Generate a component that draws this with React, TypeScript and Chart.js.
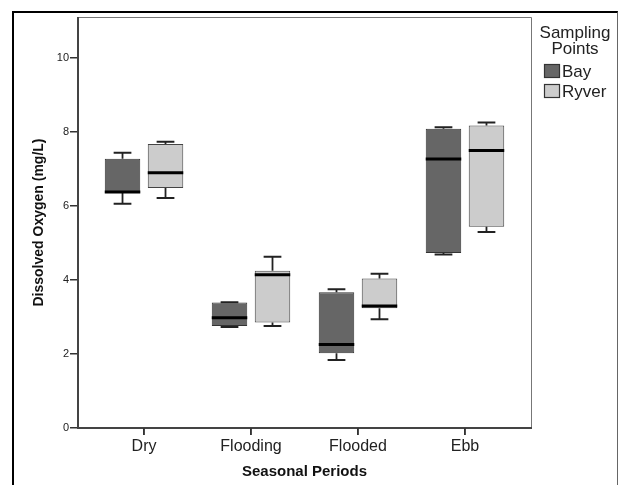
import { useEffect, useRef } from 'react';
import { Chart, registerables } from 'chart.js';

Chart.register(...registerables);

const FONT = '"Liberation Sans", Arial, Helvetica, sans-serif';

const categories = ['Dry', 'Flooding', 'Flooded', 'Ebb'];
const yTicks = [0, 2, 4, 6, 8, 10];

const bayMin = [6.06, 2.73, 1.84, 4.69];
const bayQ1 = [6.35, 2.76, 2.02, 4.73];
const bayMedian = [6.38, 2.98, 2.26, 7.27];
const bayQ3 = [7.28, 3.39, 3.67, 8.09];
const bayMax = [7.44, 3.40, 3.75, 8.13];

const ryverMin = [6.22, 2.76, 2.94, 5.30];
const ryverQ1 = [6.49, 2.85, 3.24, 5.44];
const ryverMedian = [6.90, 4.14, 3.30, 7.50];
const ryverQ3 = [7.68, 4.25, 4.04, 8.18];
const ryverMax = [7.74, 4.63, 4.17, 8.26];

const legendTitle = ['Sampling', 'Points'];

const boxPlugin = {
  id: 'boxWhiskers',
  afterDatasetsDraw(chart: any) {
    const ctx = chart.ctx;
    const y = chart.scales.y;
    chart.data.datasets.forEach((ds: any, di: number) => {
      const meta = chart.getDatasetMeta(di);
      meta.data.forEach((el: any, i: number) => {
        const x = el.x;
        const w = el.width;
        const pMin = y.getPixelForValue(ds.stats.min[i]);
        const pMax = y.getPixelForValue(ds.stats.max[i]);
        const pQ1 = y.getPixelForValue(ds.data[i].y[0]);
        const pQ3 = y.getPixelForValue(ds.data[i].y[1]);
        const pMed = y.getPixelForValue(ds.stats.median[i]);
        ctx.save();
        ctx.strokeStyle = '#222';
        ctx.lineWidth = 1.8;
        ctx.beginPath();
        ctx.moveTo(x, pQ3);
        ctx.lineTo(x, pMax);
        ctx.moveTo(x, pQ1);
        ctx.lineTo(x, pMin);
        ctx.stroke();
        ctx.lineWidth = 2;
        ctx.beginPath();
        ctx.moveTo(x - w / 4, pMax);
        ctx.lineTo(x + w / 4, pMax);
        ctx.moveTo(x - w / 4, pMin);
        ctx.lineTo(x + w / 4, pMin);
        ctx.stroke();
        ctx.strokeStyle = '#000';
        ctx.lineWidth = 3;
        ctx.beginPath();
        ctx.moveTo(x - w / 2, pMed);
        ctx.lineTo(x + w / 2, pMed);
        ctx.stroke();
        ctx.restore();
      });
    });
  },
};

const framePlugin = {
  id: 'plotFrame',
  afterDraw(chart: any) {
    const { left, right, top, bottom } = chart.chartArea;
    const ctx = chart.ctx;
    const xs = chart.scales.x;
    ctx.save();
    ctx.strokeStyle = '#777';
    ctx.lineWidth = 1;
    ctx.beginPath();
    ctx.moveTo(left, top + 0.5);
    ctx.lineTo(right + 0.5, top + 0.5);
    ctx.lineTo(right + 0.5, bottom);
    ctx.stroke();
    ctx.strokeStyle = '#444';
    ctx.lineWidth = 2;
    ctx.beginPath();
    ctx.moveTo(left, top);
    ctx.lineTo(left, bottom);
    ctx.lineTo(right + 1, bottom);
    ctx.stroke();
    ctx.strokeStyle = '#333';
    ctx.lineWidth = 1.5;
    ctx.beginPath();
    xs.ticks.forEach((_t: any, i: number) => {
      const px = xs.getPixelForTick(i);
      ctx.moveTo(px, bottom);
      ctx.lineTo(px, bottom + 7);
    });
    ctx.stroke();
    ctx.restore();
  },
};

const legendPlugin = {
  id: 'sideLegend',
  afterDraw(chart: any) {
    const ctx = chart.ctx;
    const cx = 575;
    ctx.save();
    ctx.fillStyle = '#222';
    ctx.font = `17px ${FONT}`;
    ctx.textAlign = 'center';
    ctx.textBaseline = 'middle';
    legendTitle.forEach((t, i) => ctx.fillText(t, cx, 33 + i * 16));
    ctx.textAlign = 'left';
    chart.data.datasets.forEach((ds: any, i: number) => {
      const yTop = 64 + i * 20;
      ctx.fillStyle = ds.backgroundColor;
      ctx.fillRect(544, yTop, 16, 14);
      ctx.strokeStyle = '#333';
      ctx.lineWidth = 1.2;
      ctx.strokeRect(544.5, yTop + 0.5, 15, 13);
      ctx.fillStyle = '#222';
      ctx.fillText(ds.label, 562, yTop + 8);
    });
    ctx.restore();
  },
};

export default function App() {
  const ref = useRef<HTMLCanvasElement>(null);

  useEffect(() => {
    if (!ref.current) return;
    const chart = new Chart(ref.current, {
      type: 'bar',
      data: {
        datasets: [
          {
            label: 'Bay',
            data: categories.map((_, i) => ({ x: i + 1, y: [bayQ1[i], bayQ3[i]] })),
            backgroundColor: '#666666',
            borderColor: '#333333',
            borderWidth: 1,
            borderSkipped: false,
            stats: { min: bayMin, median: bayMedian, max: bayMax },
          } as any,
          {
            label: 'Ryver',
            data: categories.map((_, i) => ({ x: i + 1, y: [ryverQ1[i], ryverQ3[i]] })),
            backgroundColor: '#cccccc',
            borderColor: '#444444',
            borderWidth: 1,
            borderSkipped: false,
            stats: { min: ryverMin, median: ryverMedian, max: ryverMax },
          } as any,
        ],
      },
      options: {
        responsive: false,
        animation: false,
        layout: { padding: { top: 17, right: 88, left: 0, bottom: 0 } },
        datasets: { bar: { categoryPercentage: 0.8037, barPercentage: 0.8256 } },
        plugins: {
          legend: { display: false },
          tooltip: { enabled: false },
        },
        scales: {
          x: {
            type: 'linear',
            offset: false,
            min: 0.383,
            max: 4.617,
            afterBuildTicks: (s: any) => {
              s.ticks = categories.map((_, i) => ({ value: i + 1 }));
            },
            afterFit: (s: any) => {
              s.height = 57;
            },
            ticks: {
              callback: (_v: any, i: number) => categories[i],
              font: { family: FONT, size: 16 },
              color: '#222',
              padding: 2,
              maxRotation: 0,
              autoSkip: false,
            },
            grid: { offset: false, drawOnChartArea: false, tickLength: 7, color: '#333', lineWidth: 1.5 },
            border: { display: false },
            title: {
              display: true,
              text: 'Seasonal Periods',
              font: { family: FONT, size: 15, weight: 'bold' },
              color: '#111',
              padding: { top: 0, bottom: 4 },
            },
          },
          y: {
            min: 0,
            max: 11.11,
            afterBuildTicks: (s: any) => {
              s.ticks = yTicks.map((v) => ({ value: v }));
            },
            afterFit: (s: any) => {
              s.width = 78;
            },
            ticks: {
              font: { family: FONT, size: 11 },
              color: '#222',
              padding: 1,
            },
            grid: { drawOnChartArea: false, tickLength: 8, color: '#333', lineWidth: 1.5 },
            border: { display: false },
            title: {
              display: true,
              text: 'Dissolved Oxygen (mg/L)',
              font: { family: FONT, size: 14, weight: 'bold' },
              color: '#111',
              padding: { top: 31, bottom: 0 },
            },
          },
        },
      } as any,
      plugins: [boxPlugin, framePlugin, legendPlugin],
    });
    return () => chart.destroy();
  }, []);

  return (
    <div style={{ position: 'fixed', left: 0, top: 0, width: 619, height: 485, overflow: 'hidden', background: '#fff' }}>
      <div
        style={{
          position: 'absolute',
          left: 12,
          top: 11,
          width: 606,
          height: 490,
          boxSizing: 'border-box',
          borderLeft: '2px solid #000',
          borderTop: '2px solid #000',
          borderRight: '1px solid #666',
        }}
      />
      <canvas ref={ref} width={619} height={485} style={{ position: 'absolute', left: 0, top: 0 }} />
    </div>
  );
}
